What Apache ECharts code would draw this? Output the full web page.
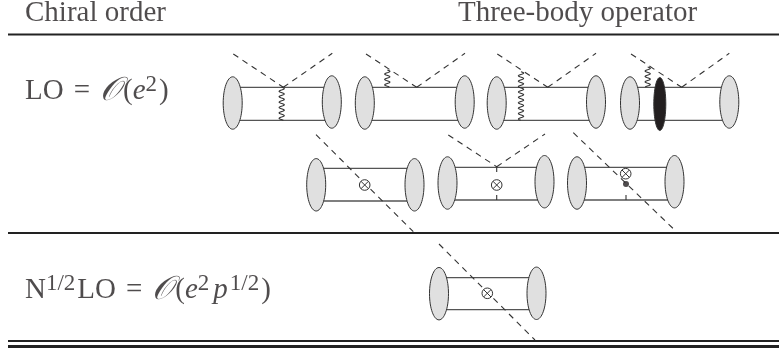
<!DOCTYPE html>
<html>
<head>
<meta charset="utf-8">
<style>
html, body { margin: 0; padding: 0; background: #fff; }
#main { width: 779px; height: 351px; }
</style>
<script src="https://cdn.jsdelivr.net/npm/echarts@6/dist/echarts.min.js"></script>
</head>
<body>
<div id="main"></div>
<script>
var thinRules = [[8, 34.5, 779], [8, 233, 779], [8, 341, 779]];
var thickRules = [[8, 346.5, 779]];
var quarkLines = [
    [233, 87.3, 332, 120.3], [365, 87.3, 465, 120.3], [497, 87.3, 596, 120.3], [630, 87.3, 729, 120.3],
    [316, 168.3, 414, 201], [447, 167.3, 544, 200], [577, 167.3, 674, 200],
    [439, 277.7, 536, 309.7]
];
var dashedLines = [
    [233.3, 54, 283.3, 87.3], [283.3, 87.3, 332.3, 53.3],
    [366, 54, 416.7, 87.3], [416.7, 87.3, 465, 53.3],
    [497.3, 54, 547.7, 87.3], [547.7, 87.3, 596, 53.3],
    [631, 54, 681.7, 87.3], [681.7, 87.3, 729.3, 53.3],
    [316, 134.7, 413.3, 231.7],
    [448.3, 135, 496.7, 166.7], [496.7, 166.7, 545, 134],
    [496.7, 167, 496.7, 172], [496.7, 195, 496.7, 200],
    [573.3, 132.7, 675.7, 231],
    [626, 195, 626, 200],
    [439, 244, 535, 340]
];
var blobs = [
    [232.7, 103], [331.8, 102], [364.8, 103], [464.7, 102], [496.7, 103], [596, 102], [630, 103], [729.3, 102],
    [316.2, 184.8], [414.5, 184.8], [447.5, 183], [544.5, 181.7], [577, 183], [674.5, 181.7],
    [439, 293.7], [536.5, 293.3]
];
var darkBlobs = [[659.8, 104]];
var wiggles = [[281.7, 87.3, 120.3], [387.3, 70, 87.3], [521, 71.7, 120.3], [647.7, 67, 87.3]];
var crossedDots = [[364.7, 185], [496.7, 185], [625.7, 173.7], [487.3, 293.3]];
var blackDots = [[626, 184]];
var labels = [
    [25, 13, '{b|Chiral order}'],
    [458, 13, '{b|Three-body operator}'],
    [25, 91, '{b|LO}{q|=}{s|𝒪}{b|(}{i|e}{u|2}{b|)}'],
    [25, 290, '{b|N}{u|1/2}{b|LO}{q|=}{s|𝒪}{b|(}{i|e}{u|2}{j|p}{u|1/2}{b|)}']
];

function segments(list) {
    var out = [];
    list.forEach(function (s) {
        out.push([s[0], s[1]], [s[2], s[3]], [null, null]);
    });
    return out;
}

function boxEdges(list) {
    var out = [];
    list.forEach(function (b) {
        out.push([b[0], b[1]], [b[2], b[1]], [null, null]);
        out.push([b[0], b[3]], [b[2], b[3]], [null, null]);
    });
    return out;
}

function ruleSegments(list) {
    var out = [];
    list.forEach(function (r) {
        out.push([r[0], r[1]], [r[2], r[1]], [null, null]);
    });
    return out;
}

function lineSeries(data, style, z) {
    return {
        type: 'line',
        data: data,
        symbol: 'none',
        silent: true,
        z: z,
        lineStyle: style
    };
}

function ellipseSeries(data, rx, ry, fill, z) {
    return {
        type: 'custom',
        data: data,
        silent: true,
        z: z,
        renderItem: function (params, api) {
            var c = api.coord([api.value(0), api.value(1)]);
            return {
                type: 'ellipse',
                shape: { cx: c[0], cy: c[1], rx: rx, ry: ry },
                style: { fill: fill, stroke: '#333', lineWidth: 1 }
            };
        }
    };
}

var option = {
    animation: false,
    backgroundColor: '#fff',
    grid: { left: 0, right: 0, top: 0, bottom: 0 },
    xAxis: { type: 'value', min: 0, max: 779, show: false },
    yAxis: { type: 'value', min: 0, max: 351, inverse: true, show: false },
    series: [
        lineSeries(ruleSegments(thinRules), { color: '#222', width: 2 }, 2),
        lineSeries(ruleSegments(thickRules), { color: '#222', width: 3 }, 2),
        lineSeries(boxEdges(quarkLines), { color: '#555', width: 1.3 }, 2),
        lineSeries(segments(dashedLines), { color: '#333', width: 1.1, type: [6, 5] }, 3),
        ellipseSeries(blobs, 9.5, 26.2, '#e0e0e0', 4),
        ellipseSeries(darkBlobs, 6, 26.5, '#231f20', 4),
        {
            // photon lines
            type: 'custom',
            data: wiggles,
            silent: true,
            z: 5,
            renderItem: function (params, api) {
                var x = api.coord([api.value(0), 0])[0];
                var y0 = api.coord([0, api.value(1)])[1];
                var y1 = api.coord([0, api.value(2)])[1];
                var pts = [];
                for (var y = y0; y <= y1; y += 0.5) {
                    pts.push([x + 2.6 * Math.sin((y - y0) * 2 * Math.PI / 5.4), y]);
                }
                return {
                    type: 'polyline',
                    shape: { points: pts },
                    style: { fill: null, stroke: '#333', lineWidth: 1.1 }
                };
            }
        },
        {
            // operator insertions
            type: 'custom',
            data: crossedDots,
            silent: true,
            z: 6,
            renderItem: function (params, api) {
                var c = api.coord([api.value(0), api.value(1)]);
                var r = 5.3, d = r * 0.7;
                var style = { fill: null, stroke: '#333', lineWidth: 1 };
                return {
                    type: 'group',
                    children: [
                        { type: 'circle', shape: { cx: c[0], cy: c[1], r: r }, style: { fill: '#fff', stroke: '#333', lineWidth: 1 } },
                        { type: 'line', shape: { x1: c[0] - d, y1: c[1] - d, x2: c[0] + d, y2: c[1] + d }, style: style },
                        { type: 'line', shape: { x1: c[0] - d, y1: c[1] + d, x2: c[0] + d, y2: c[1] - d }, style: style }
                    ]
                };
            }
        },
        {
            type: 'scatter',
            data: blackDots,
            symbol: 'circle',
            symbolSize: 6,
            silent: true,
            z: 6,
            itemStyle: { color: '#231f20' }
        },
        {
            type: 'scatter',
            data: labels,
            symbolSize: 0,
            silent: true,
            z: 7,
            label: {
                show: true,
                position: 'inside',
                align: 'left',
                verticalAlign: 'middle',
                color: '#231f20',
                fontFamily: 'Liberation Serif',
                formatter: function (p) { return p.value[2]; },
                rich: {
                    b: { fontSize: 29, lineHeight: 36, fontFamily: 'Liberation Serif', color: '#231f20' },
                    q: { fontSize: 29, lineHeight: 36, padding: [0, 10, 0, 10], fontFamily: 'Liberation Serif', color: '#231f20' },
                    i: { fontSize: 29, lineHeight: 36, fontFamily: 'Liberation Serif', fontStyle: 'italic', color: '#231f20' },
                    j: { fontSize: 29, lineHeight: 36, padding: [0, 2, 0, 2], fontFamily: 'Liberation Serif', fontStyle: 'italic', color: '#231f20' },
                    s: { fontSize: 33, lineHeight: 36, padding: [0, 2, 0, 0], fontFamily: 'Noto Sans, DejaVu Serif, Liberation Serif', fontStyle: 'italic', color: '#231f20' },
                    u: { fontSize: 23, lineHeight: 25, padding: [0, 2, 0, 0], verticalAlign: 'top', fontFamily: 'Liberation Serif', color: '#231f20' }
                }
            }
        }
    ]
};

var chart = echarts.init(document.getElementById('main'));
chart.setOption(option);
</script>
</body>
</html>
